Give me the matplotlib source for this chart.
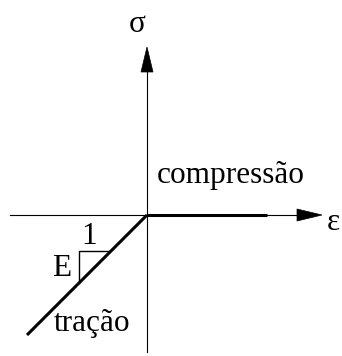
import matplotlib
matplotlib.use("Agg")
import matplotlib.pyplot as plt

# diagram coordinates (origin at the axes crossing, units ~ pixels)
eps_axis = [-137, 175]
sig_axis = [-137, 168]
compressao_x = [0, 120]
tracao_x = [0, -120]
tracao_y = [0, -120]
tri_x = [-68, -68, -37]
tri_y = [-68, -36, -36]

labels = {
    "σ": (-10, 191),
    "ε": (186, -8),
    "compressão": (84, 40),
    "tração": (-55, -108),
    "1": (-58, -21),
    "E": (-85, -54),
}

fig = plt.figure(figsize=(3.42, 3.56), dpi=100)
ax = fig.add_axes([0, 0, 1, 1])
ax.set_xlim(-147, 195)
ax.set_ylim(-141, 215)
ax.axis("off")

# eixos
ax.plot([eps_axis[0], eps_axis[1] - 20], [0, 0], color="k", lw=0.8)
ax.plot([0, 0], [sig_axis[0], sig_axis[1] - 20], color="k", lw=0.8)
ax.arrow(eps_axis[1] - 25, 0, 25, 0, width=0, head_width=12, head_length=25,
         length_includes_head=True, color="k", lw=0.5)
ax.arrow(0, sig_axis[1] - 25, 0, 25, width=0, head_width=12, head_length=25,
         length_includes_head=True, color="k", lw=0.5)

# curva tensao-deformacao
ax.plot(compressao_x, [0, 0], color="k", lw=2.2, solid_capstyle="butt")
ax.plot(tracao_x, tracao_y, color="k", lw=2.2, solid_capstyle="butt")
ax.plot(tri_x, tri_y, color="k", lw=1.0)

font = ["Liberation Serif", "DejaVu Serif"]
for txt, (x, y) in labels.items():
    ax.text(x, y, txt, fontsize=22.5, family=font, ha="center", va="center")

fig.savefig("out.png", dpi=100)
